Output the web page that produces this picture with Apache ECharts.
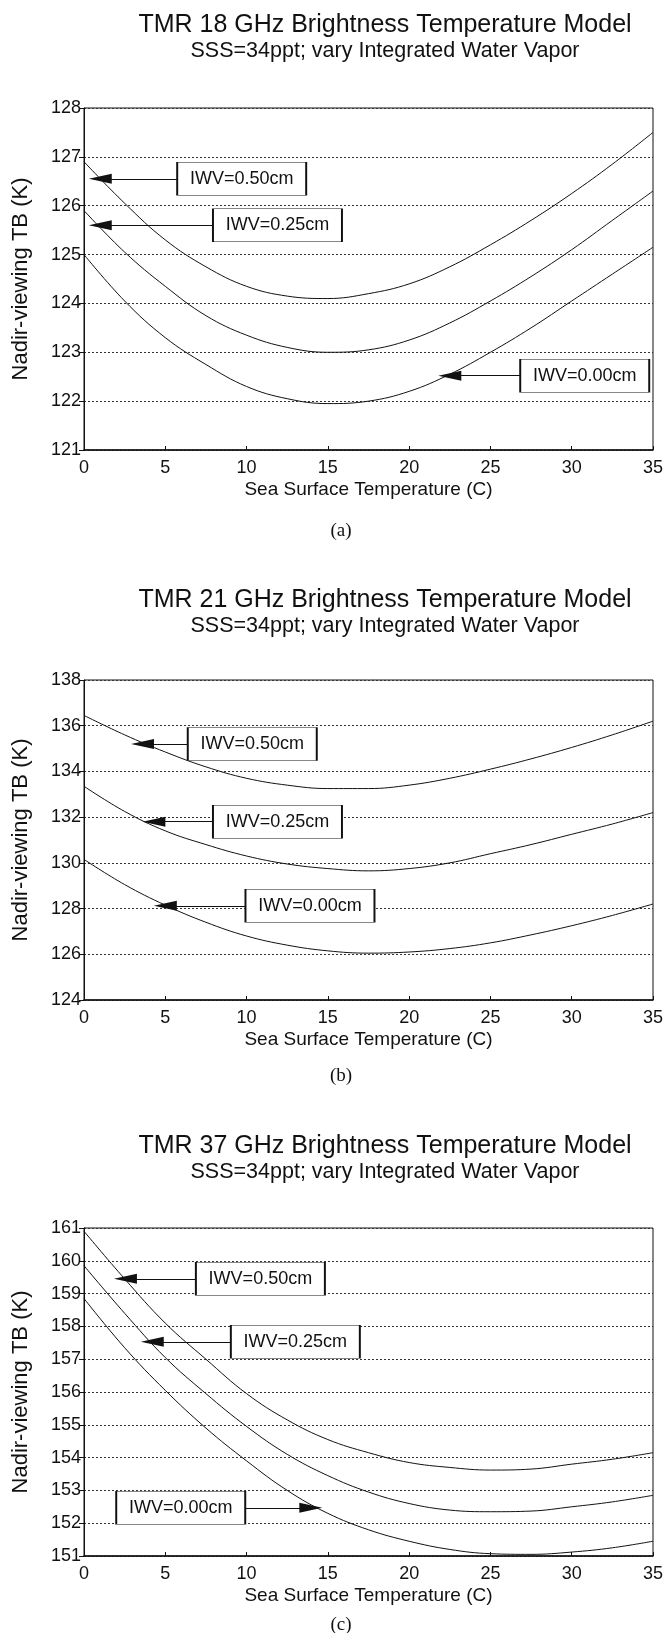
<!DOCTYPE html>
<html>
<head>
<meta charset="utf-8">
<script src="https://cdn.jsdelivr.net/npm/echarts@6/dist/echarts.min.js"></script>
<style>
  html, body { margin: 0; padding: 0; background: #fff; }
  #chart { width: 671px; height: 1633px; }
</style>
</head>
<body>
<div id="chart"></div>
<script>
// 海表温度 (C)
var sst = [0, 2.5, 5, 7.5, 10, 12.5, 15, 17.5, 20, 22.5, 25, 27.5, 30, 32.5, 35];

// 18 GHz
var tb18_050 = [126.9, 126.05, 125.3, 124.75, 124.35, 124.15, 124.1, 124.2, 124.4, 124.75, 125.2, 125.7, 126.25, 126.85, 127.5];
var tb18_025 = [125.9, 125.05, 124.35, 123.75, 123.35, 123.1, 123.0, 123.05, 123.25, 123.6, 124.05, 124.55, 125.1, 125.7, 126.3];
var tb18_000 = [125.0, 124.05, 123.3, 122.75, 122.3, 122.05, 121.95, 122.0, 122.2, 122.55, 123.0, 123.5, 124.05, 124.6, 125.15];

// 21 GHz
var tb21_050 = [136.45, 135.6, 134.85, 134.2, 133.7, 133.4, 133.25, 133.25, 133.4, 133.7, 134.1, 134.55, 135.05, 135.6, 136.2];
var tb21_025 = [133.35, 132.25, 131.4, 130.8, 130.3, 129.95, 129.75, 129.65, 129.75, 130.0, 130.4, 130.8, 131.25, 131.7, 132.2];
var tb21_000 = [130.15, 129.05, 128.15, 127.4, 126.8, 126.4, 126.15, 126.05, 126.1, 126.25, 126.5, 126.85, 127.25, 127.7, 128.2];

// 37 GHz
var tb37_050 = [160.9, 159.45, 158.1, 157.0, 155.95, 155.15, 154.55, 154.15, 153.85, 153.7, 153.62, 153.65, 153.8, 153.95, 154.15];
var tb37_025 = [159.85, 158.4, 157.05, 155.95, 154.95, 154.1, 153.45, 152.95, 152.6, 152.4, 152.35, 152.37, 152.5, 152.65, 152.85];
var tb37_000 = [158.85, 157.35, 156.05, 154.9, 153.9, 153.0, 152.3, 151.8, 151.45, 151.2, 151.07, 151.05, 151.12, 151.25, 151.45];

var iwvNames = ['IWV=0.50cm', 'IWV=0.25cm', 'IWV=0.00cm'];

// 标注: [框中心x, 框中心y, 箭头x, 箭头y]
var notes18 = [[9.7, 126.55, 1.0, 126.55], [11.9, 125.6, 1.0, 125.6], [30.8, 122.52, 22.5, 122.52]];
var notes21 = [[10.35, 135.2, 3.6, 135.2], [11.9, 131.8, 4.3, 131.8], [13.9, 128.12, 5.0, 128.12]];
var notes37 = [[10.85, 159.45, 2.55, 159.45], [13.0, 157.53, 4.2, 157.53], [5.95, 152.47, 13.95, 152.47]];

var yRanges = [[121, 128, 1], [124, 138, 2], [151, 161, 1]];
var titles = ['TMR 18 GHz Brightness Temperature Model',
              'TMR 21 GHz Brightness Temperature Model',
              'TMR 37 GHz Brightness Temperature Model'];
var subTitle = 'SSS=34ppt; vary Integrated Water Vapor';
var panelTags = ['(a)', '(b)', '(c)'];

var FONT = "'Liberation Sans', Arial, sans-serif";

var gridTops = [108, 680, 1228];
var gridHeights = [342, 320, 328];
var titleTops = [8, 583, 1129];
var tagOffsets = [67, 62, 55];

var myChart = echarts.init(document.getElementById('chart'));

/**
 * 组合成点对
 */
function pairs(ys) {
    let out = [];
    for (let i = 0; i < sst.length; i++) {
        out.push([sst[i], ys[i]]);
    }
    return out;
}

/**
 * 生成一条曲线及其标注
 */
function makeSeries(idx, ys, note, name) {
    return {
        type: 'line',
        name: name,
        xAxisIndex: idx,
        yAxisIndex: idx,
        data: pairs(ys),
        smooth: 0.4,
        symbol: 'none',
        lineStyle: { color: '#111', width: 1 },
        markLine: {
            silent: true,
            symbol: ['none', 'triangle'],
            symbolSize: [10, 23],
            lineStyle: { color: '#111', width: 1, type: 'solid' },
            itemStyle: { color: '#3a3a3a' },
            label: { show: false },
            data: [[
                { coord: [note[0] + (note[2] < note[0] ? -3.95 : 3.95), note[1]] },
                { coord: [note[2], note[3]] }
            ]]
        },
        markPoint: {
            silent: true,
            symbol: 'rect',
            symbolSize: [129, 33],
            itemStyle: { color: '#fff', borderColor: '#111', borderWidth: 1 },
            label: {
                show: true,
                formatter: name,
                color: '#111',
                fontFamily: FONT,
                fontSize: 18
            },
            data: [{ coord: [note[0], note[1]] }]
        }
    };
}

var grids = [], xAxes = [], yAxes = [], titleList = [], series = [];
var allData = [[tb18_050, tb18_025, tb18_000], [tb21_050, tb21_025, tb21_000], [tb37_050, tb37_025, tb37_000]];
var allNotes = [notes18, notes21, notes37];

for (let i = 0; i < 3; i++) {
    grids.push({
        left: 84, right: 18, top: gridTops[i], height: gridHeights[i],
        show: true, borderColor: '#111', borderWidth: 1, backgroundColor: 'transparent'
    });
    xAxes.push({
        type: 'value', gridIndex: i, min: 0, max: 35, interval: 5,
        name: 'Sea Surface Temperature (C)', nameLocation: 'middle', nameGap: 30,
        nameTextStyle: { color: '#111', fontFamily: FONT, fontSize: 19 },
        axisLine: { lineStyle: { color: '#111', width: 1.5 } },
        axisTick: { inside: true, length: 4, lineStyle: { color: '#111' } },
        axisLabel: { color: '#111', fontFamily: FONT, fontSize: 18, margin: 9 },
        splitLine: { show: false }
    });
    yAxes.push({
        type: 'value', gridIndex: i, min: yRanges[i][0], max: yRanges[i][1], interval: yRanges[i][2],
        name: 'Nadir-viewing TB (K)', nameLocation: 'middle', nameGap: 52,
        nameTextStyle: { color: '#111', fontFamily: FONT, fontSize: 22 },
        axisLine: { lineStyle: { color: '#111', width: 1 } },
        axisTick: { inside: false, length: 5, lineStyle: { color: '#111' } },
        axisLabel: { color: '#111', fontFamily: FONT, fontSize: 18, margin: 3 },
        splitLine: { show: true, lineStyle: { color: '#333', width: 1, type: [2, 2] } }
    });
    titleList.push({
        text: titles[i], subtext: subTitle,
        left: 380, textAlign: 'center', top: titleTops[i], itemGap: 2,
        textStyle: { color: '#111', fontFamily: FONT, fontSize: 25, fontWeight: 'normal' },
        subtextStyle: { color: '#111', fontFamily: FONT, fontSize: 21.5 }
    });
    titleList.push({
        text: panelTags[i],
        left: 336, textAlign: 'center', top: gridTops[i] + gridHeights[i] + tagOffsets[i],
        textStyle: { color: '#111', fontFamily: "'Liberation Serif', serif", fontSize: 19, fontWeight: 'normal' }
    });
    for (let k = 0; k < 3; k++) {
        series.push(makeSeries(i, allData[i][k], allNotes[i][k], iwvNames[k]));
    }
}

myChart.setOption({
    backgroundColor: '#fff',
    animation: false,
    title: titleList,
    grid: grids,
    xAxis: xAxes,
    yAxis: yAxes,
    series: series
});
</script>
</body>
</html>
